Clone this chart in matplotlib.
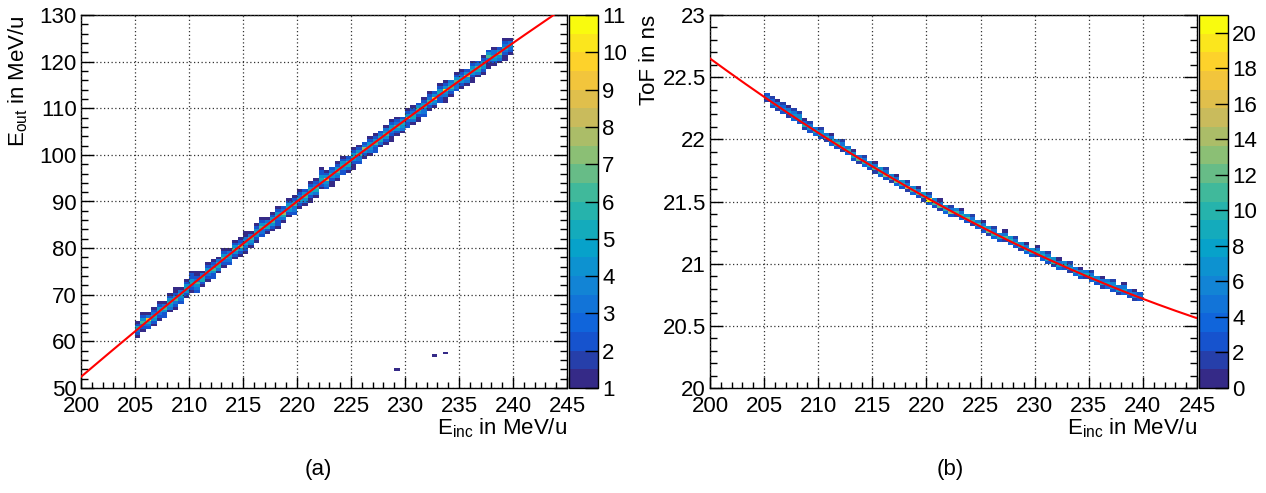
import numpy as np
import matplotlib
matplotlib.use("Agg")
import matplotlib.pyplot as plt
from matplotlib.colors import LinearSegmentedColormap, ListedColormap, BoundaryNorm
from matplotlib.ticker import MultipleLocator, FuncFormatter

plt.rcParams['font.family'] = ['Liberation Sans', 'DejaVu Sans']
plt.rcParams['mathtext.fontset'] = 'custom'
plt.rcParams['mathtext.rm'] = 'Liberation Sans'
plt.rcParams['mathtext.it'] = 'Liberation Sans:italic'

# ---- (a) E_out vs E_inc, 2D histogram (column-wise: lowest filled y-bin + counts)
eout_x0, eout_dx = 205.0, 0.5
eout_y0, eout_dy = 50.0, 0.6
eout_lo = [18, 20, 21, 22, 24, 25, 27, 28, 30, 32,
           34, 34, 36, 38, 39, 41, 43, 44, 46, 47,
           48, 50, 52, 54, 55, 56, 57, 59, 61, 62,
           64, 65, 66, 68, 71, 71, 72, 74, 76, 77,
           78, 80, 82, 83, 84, 86, 87, 88, 90, 91,
           93, 94, 95, 97, 99, 100, 102, 102, 104, 106,
           107, 108, 109, 111, 112, 114, 115, 116, 117, 119]
eout_counts = [
    "1 2 3 5 2 1", "1 2 3 6 4 2 1", "2 3 5 9 3 1", "1 2 4 5 3 2 1", "1 2 3 5 4 2 1",
    "2 2 4 6 3 1", "1 3 4 5 4 2 1", "1 2 3 6 4 2 1 1", "2 3 4 5 3 1", "1 2 4 5 4 2 1",
    "1 2 3 5 4 2 2 1", "2 3 4 6 3 2 1 1", "1 2 5 5 3 1", "1 2 3 5 4 2 1", "2 2 4 6 3 2 1",
    "1 3 5 5 3 1", "1 2 3 6 4 2 1", "2 3 4 5 3 1", "1 2 4 6 4 2 1", "1 2 4 7 3 2 1",
    "1 2 3 5 4 3 1 1", "1 3 4 6 3 1", "1 2 4 5 4 2 1", "2 3 3 6 4 2 1", "1 2 5 5 3 1",
    "1 2 4 6 4 2 1", "1 2 2 3 5 4 2 1", "1 3 5 7 3 2", "1 2 4 5 4 2 1", "2 3 3 6 4 2 1",
    "1 2 4 5 3 2 1", "1 3 4 6 4 2", "1 1 2 4 5 4 2 1", "1 3 5 6 3 2 1", "1 2 4 5 4 2 2 1",
    "2 3 4 8 4 2 1", "1 1 2 4 5 3 2", "1 3 4 6 4 2 1", "2 2 4 5 4 2 1", "1 3 5 6 3 2",
    "1 1 2 4 5 4 2 1", "2 3 3 6 4 2 1", "1 2 4 7 3 2", "1 3 4 5 4 2 1", "2 2 3 6 4 2 1",
    "1 3 5 5 3 2", "1 2 4 6 4 3 1", "1 1 2 3 5 4 2 1", "1 2 4 6 3 2 1", "1 3 4 5 4 2",
    "2 2 3 8 4 2 1", "1 3 5 5 3 2 1", "1 1 2 4 6 4 2", "2 3 3 5 4 2 1", "1 2 4 6 3 2 1",
    "1 3 4 9 4 2", "2 2 3 5 4 2 1", "1 1 3 4 10 4 2 1", "1 2 4 6 4 3", "2 3 3 6 4 2 1",
    "1 2 4 5 3 2 1", "1 3 4 8 4 2", "1 1 2 4 5 4 2 1", "1 3 5 6 3 2", "1 2 4 5 4 2 1",
    "1 1 2 3 6 4 2", "1 2 4 5 3 3 1", "1 3 4 7 4 2", "1 1 2 3 5 3 2 1", "1 2 3 4 3 1",
]
eout_out_x = [229.35, 232.75, 233.6]
eout_out_y = [53.8, 57.0, 57.35]
eout_fit = [52.4, 1.97, -0.0045]        # polynomial in (E_inc - 200)

# ---- (b) ToF vs E_inc
tof_x0, tof_dx = 205.0, 0.5
tof_y0, tof_dy = 20.0, 0.025
tof_lo = [92, 90, 89, 88, 87, 86, 85, 83, 82, 81,
          80, 79, 78, 77, 76, 75, 73, 72, 71, 70,
          69, 68, 67, 66, 65, 64, 63, 62, 61, 60,
          59, 58, 57, 56, 55, 55, 54, 53, 52, 51,
          50, 49, 48, 47, 47, 46, 45, 44, 43, 42,
          42, 41, 40, 39, 38, 38, 37, 36, 35, 35,
          34, 33, 32, 32, 31, 30, 30, 29, 28, 28]
tof_counts = [
    "2 5 3", "3 6 4 2", "2 7 5 1", "3 6 4 2", "2 8 5 1",
    "4 7 5 2", "3 8 6 2", "2 9 4 1", "3 7 5 2", "4 9 5",
    "3 8 6 2", "2 10 5", "4 9 5 1", "3 11 6", "2 9 5 2",
    "4 10 5", "3 9 7 1", "2 12 5", "4 10 5 2", "3 9 6",
    "2 11 5 1", "4 10 7", "3 13 5 2", "2 10 6", "4 12 5 1",
    "3 10 7", "2 14 5 2", "4 11 6", "3 12 5 1", "2 10 7",
    "4 21 5 2", "3 11 6", "2 12 5 1", "4 10 7", "3 13 5 2",
    "2 11 6", "4 10 5 1", "3 12 7", "2 10 5 2", "4 11 6",
    "3 10 5 1", "2 12 7", "4 10 5 2", "3 9 6", "2 11 5 1",
    "4 10 7", "3 10 5 2", "2 9 6", "4 10 5 1", "3 9 7",
    "2 10 5 1", "4 9 6", "3 9 5 2", "2 10 7", "4 8 5 1",
    "3 9 6", "2 8 5 2", "4 9 5", "3 8 6 1", "2 9 5",
    "4 8 5 2", "3 7 6", "2 8 5 1", "4 8 5", "3 7 6 2",
    "2 7 5", "4 8 5 1", "3 7 4", "2 6 5 1", "3 5 3",
]
tof_fit = [22.65, -0.0636, 0.000382]    # polynomial in (E_inc - 200)

# ROOT kBird palette
bird_r = [0.2082, 0.0592, 0.0780, 0.0232, 0.1802, 0.5301, 0.8186, 0.9956, 0.9764]
bird_g = [0.1664, 0.3599, 0.5041, 0.6419, 0.7178, 0.7492, 0.7328, 0.7862, 0.9832]
bird_b = [0.5293, 0.8684, 0.8385, 0.7914, 0.6425, 0.4662, 0.3499, 0.1968, 0.0539]
bird = LinearSegmentedColormap.from_list("bird", list(zip(bird_r, bird_g, bird_b)))
cmap = ListedColormap(bird(np.linspace(0, 1, 20)))


def build_hist(x0, dx, y0, dy, ny, lo, counts):
    nx = len(lo)
    H = np.zeros((ny, nx))
    for i, (k, s) in enumerate(zip(lo, counts)):
        v = [int(c) for c in s.split()]
        H[k:k + len(v), i] = v
    xe = x0 + dx * np.arange(nx + 1)
    ye = y0 + dy * np.arange(ny + 1)
    return xe, ye, H


def style_axes(ax, xlim, ylim, ymaj, ymin):
    ax.set_xlim(*xlim)
    ax.set_ylim(*ylim)
    ax.xaxis.set_major_locator(MultipleLocator(5))
    ax.xaxis.set_minor_locator(MultipleLocator(1))
    ax.yaxis.set_major_locator(MultipleLocator(ymaj))
    ax.yaxis.set_minor_locator(MultipleLocator(ymin))
    ax.yaxis.set_major_formatter(FuncFormatter(lambda v, p: f"{v:g}"))
    ax.grid(True, which='major', color='#333333', linestyle=(0, (1, 2)), lw=0.9)
    ax.set_axisbelow(False)
    ax.tick_params(axis='x', which='major', direction='in', length=8, width=1,
                   labelsize=16, pad=6, top=False)
    ax.tick_params(axis='x', which='minor', direction='in', length=4, width=1, top=False)
    ax.tick_params(axis='y', which='major', direction='in', length=9.5, width=1,
                   labelsize=16, pad=3, right=True)
    ax.tick_params(axis='y', which='minor', direction='in', length=4.7, width=1, right=True)
    for sp in ax.spines.values():
        sp.set_linewidth(1)
    ax.set_xlabel(r"E$_{\mathrm{inc}}$ in MeV/u", fontsize=16, loc='right')
    ax.xaxis.set_label_coords(1.0, -0.075)
    ax.xaxis.label.set_va('top')


fig = plt.figure(figsize=(12.66, 4.93), dpi=100)
H_W, H_H = 1266, 493
ax1 = fig.add_axes([81 / H_W, 1 - 388 / H_H, 486 / H_W, 373 / H_H])
cax1 = fig.add_axes([569 / H_W, 1 - 388 / H_H, 29 / H_W, 373 / H_H])
ax2 = fig.add_axes([710 / H_W, 1 - 388 / H_H, 487 / H_W, 373 / H_H])
cax2 = fig.add_axes([1199 / H_W, 1 - 388 / H_H, 29 / H_W, 373 / H_H])

# panel (a)
xe, ye, H = build_hist(eout_x0, eout_dx, eout_y0, eout_dy, 134, eout_lo, eout_counts)
for ox, oy in zip(eout_out_x, eout_out_y):
    H[int((oy - eout_y0) / eout_dy), int((ox - eout_x0) / eout_dx)] += 1
norm1 = BoundaryNorm(np.linspace(1, 11, 21), cmap.N)
m1 = ax1.pcolormesh(xe, ye, np.ma.masked_equal(H, 0), cmap=cmap, norm=norm1,
                    edgecolors='none', antialiased=False, zorder=1)
xf = np.linspace(200, 245, 300)
ax1.plot(xf, np.polyval(eout_fit[::-1], xf - 200), color='red', lw=1.5, zorder=3)
style_axes(ax1, (200, 245), (50, 130), 10, 2)
ax1.set_ylabel(r"E$_{\mathrm{out}}$ in MeV/u", fontsize=16, loc='top')
ax1.yaxis.set_label_coords(-0.105, 1.0)

# panel (b)
xe, ye, H = build_hist(tof_x0, tof_dx, tof_y0, tof_dy, 120, tof_lo, tof_counts)
norm2 = BoundaryNorm(np.linspace(0, 21, 21), cmap.N)
m2 = ax2.pcolormesh(xe, ye, np.ma.masked_equal(H, 0), cmap=cmap, norm=norm2,
                    edgecolors='none', antialiased=False, zorder=1)
ax2.plot(xf, np.polyval(tof_fit[::-1], xf - 200), color='red', lw=1.5, zorder=3)
style_axes(ax2, (200, 245), (20, 23), 0.5, 0.1)
ax2.set_ylabel("ToF in ns", fontsize=16, loc='top')
ax2.yaxis.set_label_coords(-0.103, 1.0)

# colour bars
for m, cax, ticks in [(m1, cax1, range(1, 12)), (m2, cax2, range(0, 22, 2))]:
    cb = fig.colorbar(m, cax=cax, ticks=list(ticks), drawedges=False)
    cb.outline.set_linewidth(1)
    cb.minorticks_off()
    cax.tick_params(direction='in', length=9.5, width=1, labelsize=16, pad=3,
                    right=True, left=False)

fig.text(318 / H_W, 1 - 470 / H_H, "(a)", fontsize=16, ha='center', va='center')
fig.text(950 / H_W, 1 - 470 / H_H, "(b)", fontsize=16, ha='center', va='center')

fig.savefig("out.png", dpi=100)
